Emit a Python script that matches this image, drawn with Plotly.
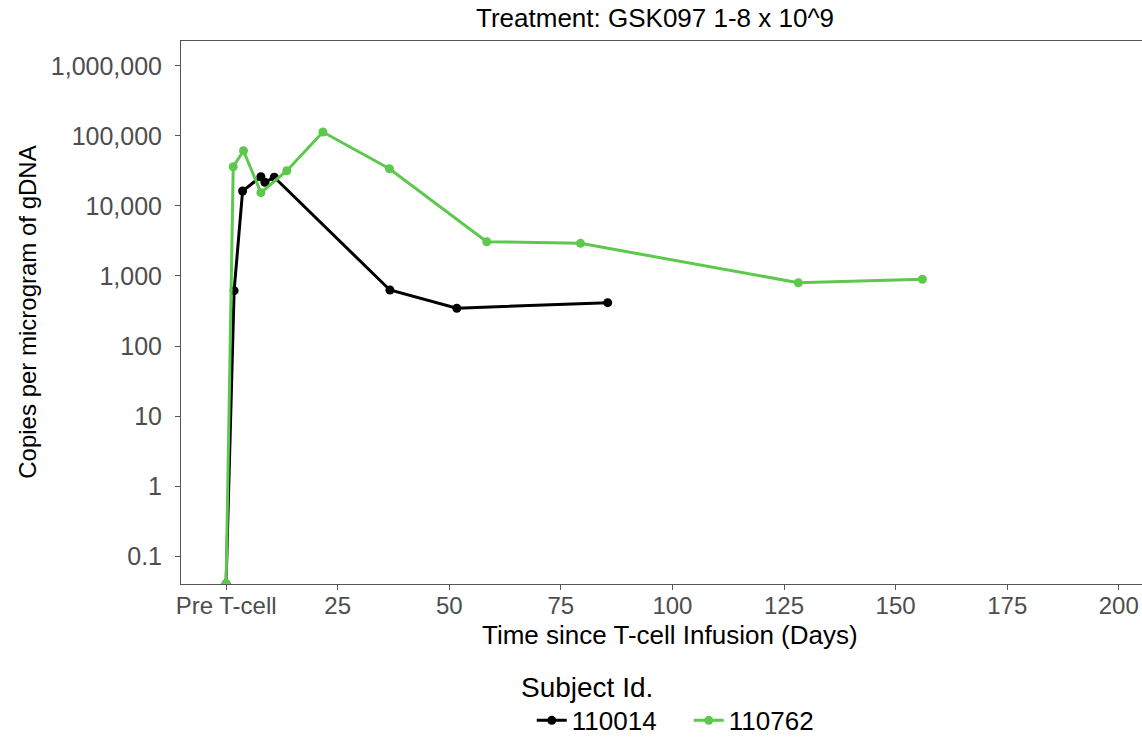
import plotly.graph_objects as go

# Data
days_110014 = [0, 1.8, 3.7, 7.8, 8.7, 10.8, 36.7, 51.7, 85.5]
copies_110014 = [0.04, 617, 16400, 26200, 21800, 25700, 631, 346, 416]

days_110762 = [0, 1.6, 3.9, 7.8, 13.6, 21.7, 36.6, 58.4, 79.4, 128.2, 156.0]
copies_110762 = [0.04, 36400, 61600, 15500, 31900, 114000, 34100, 3090, 2930, 802, 897]

x_tickvals = [0, 25, 50, 75, 100, 125, 150, 175, 200]
x_ticktext = ["Pre T-cell", "25", "50", "75", "100", "125", "150", "175", "200"]
y_tickvals = [0.1, 1, 10, 100, 1000, 10000, 100000, 1000000]
y_ticktext = ["0.1", "1", "10", "100", "1,000", "10,000", "100,000", "1,000,000"]

subjects = ["110014", "110762"]
colors = ["#000000", "#5cc94d"]

font = "Liberation Sans, Arial, sans-serif"

fig = go.Figure()
for name, xs, ys, c in [(subjects[0], days_110014, copies_110014, colors[0]),
                        (subjects[1], days_110762, copies_110762, colors[1])]:
    fig.add_trace(go.Scatter(
        x=xs, y=ys, name=name, mode="lines+markers",
        line=dict(color=c, width=3),
        marker=dict(color=c, size=9),
    ))

fig.update_layout(
    width=1142, height=738,
    margin=dict(l=181, r=0, t=41, b=154, autoexpand=False),
    paper_bgcolor="white", plot_bgcolor="white",
    title=dict(text="Treatment: GSK097 1-8 x 10^9", x=0.5736, xanchor="center",
               xref="container", yref="container",
               y=1 - 18 / 738, yanchor="middle",
               font=dict(family=font, size=26, color="black")),
    showlegend=True,
    legend=dict(
        orientation="h", x=0.365, xanchor="left", y=-0.208, yanchor="top",
        font=dict(family=font, size=26, color="black"),
        entrywidth=112, entrywidthmode="pixels",
        itemwidth=30,
    ),
    annotations=[
        dict(text="Time since T-cell Infusion (Days)", xref="paper", yref="paper",
             x=0.509, y=-0.094, xanchor="center", yanchor="middle", showarrow=False,
             font=dict(family=font, size=26, color="black")),
        dict(text="Copies per microgram of gDNA", xref="paper", yref="paper",
             x=-0.160, y=0.5, xanchor="center", yanchor="middle", showarrow=False,
             textangle=-90, font=dict(family=font, size=24, color="black")),
        dict(text="Subject Id.", xref="paper", yref="paper",
             x=0.352, y=-0.190, xanchor="left", yanchor="middle", showarrow=False,
             font=dict(family=font, size=28, color="black")),
    ],
)

fig.update_xaxes(
    range=[-10.1, 205.2], tickvals=x_tickvals, ticktext=x_ticktext,
    automargin=False,
    showgrid=False, zeroline=False,
    showline=True, linecolor="#555555", linewidth=1, mirror=True,
    ticks="outside", ticklen=5, tickcolor="#555555", tickwidth=1,
    ticklabelstandoff=-5,
    tickfont=dict(family=font, size=24, color="#4d4d4d"),
)
fig.update_yaxes(
    type="log", range=[-1.4, 6.357], tickvals=y_tickvals, ticktext=y_ticktext,
    automargin=False,
    showgrid=False, zeroline=False,
    showline=True, linecolor="#555555", linewidth=1, mirror=True,
    ticks="outside", ticklen=5, tickcolor="#555555", tickwidth=1,
    ticklabelstandoff=8,
    tickfont=dict(family=font, size=25, color="#4d4d4d"),
)

fig.write_html(
    "out.html",
    config={"displayModeBar": False},
    post_script="document.body.style.margin='0';document.body.style.overflow='hidden';",
)
